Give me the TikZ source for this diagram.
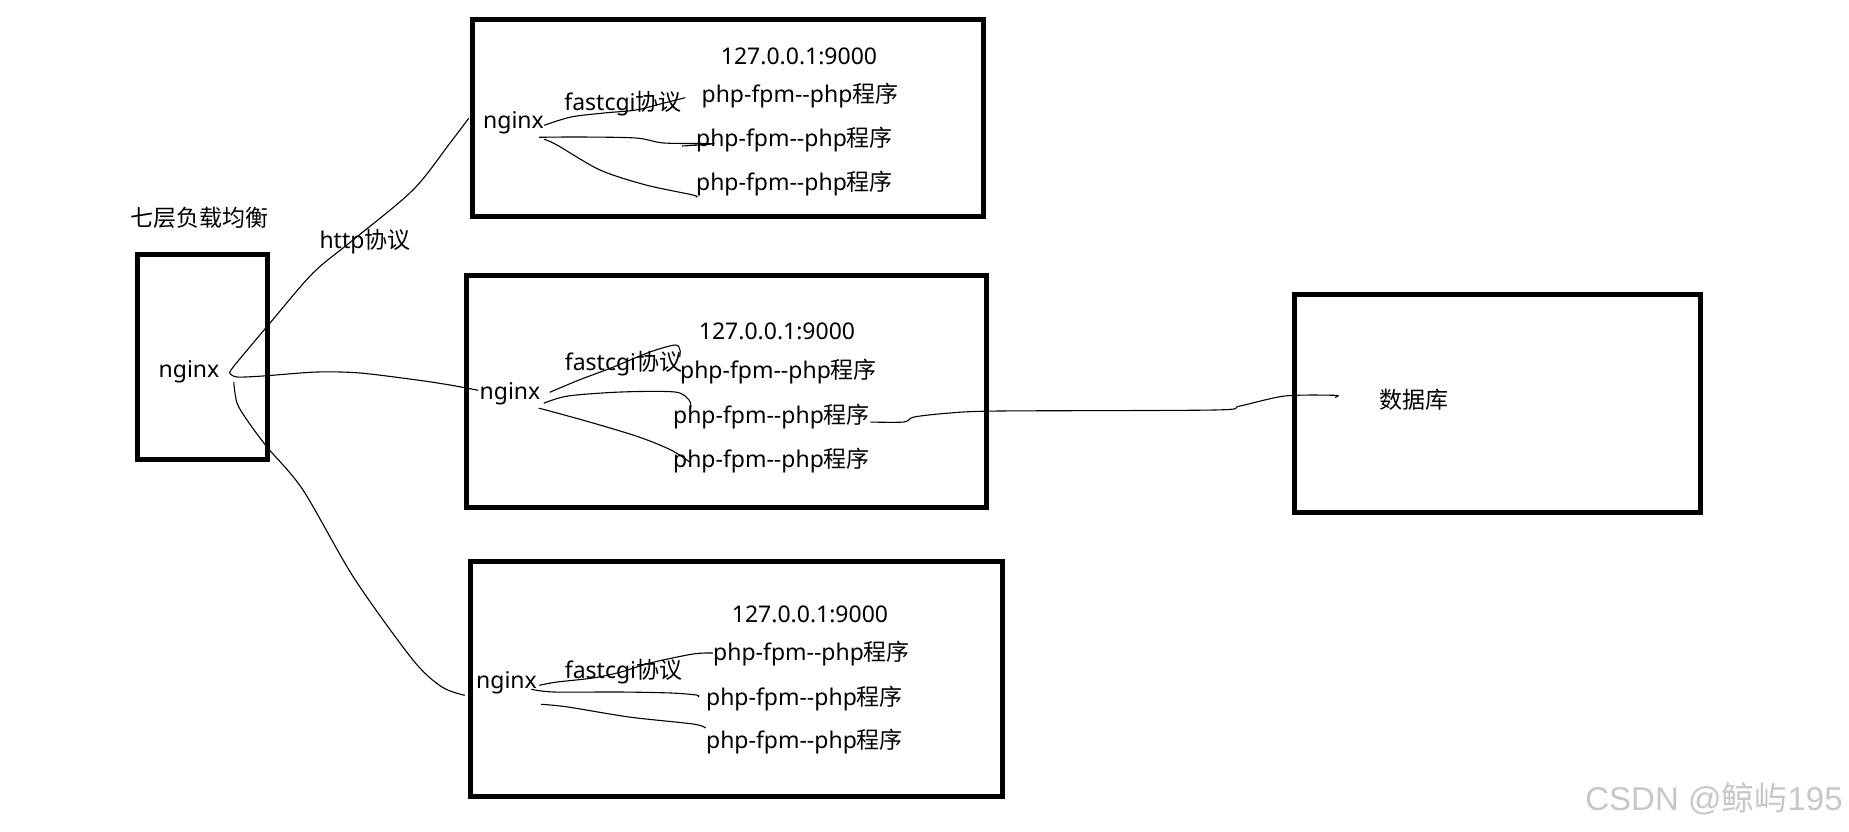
\documentclass[tikz,border=0pt]{standalone}
\usepackage{fontspec}
\setmainfont{Noto Sans}
\newfontfamily\cjk{Noto Sans CJK SC}
\newfontfamily\wmfont{Liberation Sans}
\usetikzlibrary{calc}
\newcommand\phpline{php-fpm-{}-php{\cjk 程序}}
\begin{document}
\begin{tikzpicture}[x=0.5pt,y=-0.5pt,
  boxline/.style={line width=2.4pt},
  wire/.style={line width=0.55pt},
  lbl/.style={inner sep=0pt, anchor=base, font=\fontsize{11.5}{14}\selectfont},
]
\useasboundingbox (0,0) rectangle (1849,831);
\fill[white] (0,0) rectangle (1849,831);

% boxes
\draw[boxline] (137.5,254.5) rectangle (267.5,459.5);
\draw[boxline] (472.5,19.5) rectangle (983.5,216.5);
\draw[boxline] (466.5,275.5) rectangle (986.5,507.5);
\draw[boxline] (470.5,561.5) rectangle (1002.5,796.5);
\draw[boxline] (1294.5,294.5) rectangle (1700.5,512.5);

% load balancer texts
\node[lbl] (title) at (199,226) {\cjk 七层负载均衡};
\node[lbl] (lbn) at (189,377) {nginx};
\node[lbl] (http) at (365,248) {http{\cjk 协议}};

% box 1
\node[lbl] (n1) at (513.5,128) {nginx};
\node[lbl] (f1) at (623,110) {fastcgi{\cjk 协议}};
\node[lbl] (ip1) at (799,64) {127.0.0.1:9000};
\node[lbl] (p11) at (800,102.7) {\phpline};
\node[lbl] (p12) at (794.5,146.7) {\phpline};
\node[lbl] (p13) at (794.5,190) {\phpline};

% box 2
\node[lbl] (n2) at (510,399) {nginx};
\node[lbl] (f2) at (623.5,370) {fastcgi{\cjk 协议}};
\node[lbl] (ip2) at (777,339) {127.0.0.1:9000};
\node[lbl] (p21) at (778.5,378) {\phpline};
\node[lbl] (p22) at (771.5,423) {\phpline};
\node[lbl] (p23) at (771.5,467) {\phpline};

% box 3
\node[lbl] (n3) at (506.5,688) {nginx};
\node[lbl] (f3) at (623.5,678) {fastcgi{\cjk 协议}};
\node[lbl] (ip3) at (810,622) {127.0.0.1:9000};
\node[lbl] (p31) at (811.6,660) {\phpline};
\node[lbl] (p32) at (804.5,705) {\phpline};
\node[lbl] (p33) at (804.5,748) {\phpline};

% database
\node[lbl] (db) at (1414,408) {\cjk 数据库};

% watermark
\node[inner sep=0pt, anchor=base east, font=\fontsize{16.5}{20}\selectfont, text=black!22] (wm) at (1843,810) {\wmfont CSDN @{\cjk 鲸屿}195};

% connector end points
\coordinate (c1s) at ($(lbn.east)+(10,2)$);
\coordinate (c1e) at ($(n1.west)+(-14,-4)$);
\coordinate (c2s) at ($(lbn.east)+(10,2)$);
\coordinate (c2e) at ($(n2.west)+(-1,-3)$);
\coordinate (c3s) at ($(lbn.east)+(14,11)$);
\coordinate (c3e) at ($(n3.west)+(-11,13)$);

\coordinate (a11) at ($(n1.east)+(0,3)$);
\coordinate (b11) at ($(p11.west)+(-16,2)$);
\coordinate (a12) at ($(n1.east)+(-5,15)$);
\coordinate (b12) at ($(p12.west)+(17,4)$);
\coordinate (a13) at ($(n1.east)+(0,17)$);
\coordinate (b13) at ($(p13.west)+(0,14)$);

\coordinate (a21) at ($(n2.east)+(9,-1)$);
\coordinate (b21) at ($(p21.west)+(0,-14)$);
\coordinate (a22) at ($(n2.east)+(3,10)$);
\coordinate (b22) at ($(p22.west)+(18,-9)$);
\coordinate (a23) at ($(n2.east)+(-2,15)$);
\coordinate (b23) at ($(p23.west)+(17,2)$);

\coordinate (a31) at ($(n3.east)+(2,3)$);
\coordinate (b31) at ($(p31.west)+(0,0)$);
\coordinate (a32) at ($(n3.east)+(-6,7)$);
\coordinate (b32) at ($(p32.west)+(-9,-3)$);
\coordinate (a33) at ($(n3.east)+(4,22)$);
\coordinate (b33) at ($(p33.west)+(0,-13)$);

\coordinate (ds) at ($(p22.east)+(0,6)$);
\coordinate (de) at ($(db.west)+(-44,-4)$);

% http connectors
\draw[wire] plot[smooth, tension=0.5] coordinates {(c1s) (234,366) (270,323) (313,273) (353,240) (413,190) (450,143) (c1e)};
\draw[wire] plot[smooth, tension=0.5] coordinates {(c2s) (237,377) (263,376) (317,372) (360,373) (417,380) (450,385) (c2e)};
\draw[wire] plot[smooth, tension=0.5] coordinates {(c3s) (237,403) (247,420) (267,447) (303,490) (354,578) (413,660) (442,687) (c3e)};

% fastcgi connectors box 1
\draw[wire] plot[smooth, tension=0.5] coordinates {(a11) (571,117) (604,113) (636,110) (664,103) (b11)};
\draw[wire] plot[smooth, tension=0.5] coordinates {(a12) (580,137) (636,138) (664,143) (b12) (682,146)};
\draw[wire] plot[smooth, tension=0.5] coordinates {(a13) (557,145) (600,170) (646,185) (693,195) (b13)};

% fastcgi connectors box 2
\draw[wire] plot[smooth, tension=0.5] coordinates {(a21) (579,380) (611,368) (650,352) (675,345) (680,350) (b21)};
\draw[wire] plot[smooth, tension=0.5] coordinates {(a22) (568,396) (621,392) (675,392) (689,400) (b22)};
\draw[wire] plot[smooth, tension=0.5] coordinates {(a23) (546,410) (593,423) (639,437) (671,450) (b23)};

% fastcgi connectors box 3
\draw[wire] plot[smooth, tension=0.5] coordinates {(a31) (557,682) (593,678) (621,672) (650,663) (693,654) (b31)};
\draw[wire] plot[smooth, tension=0.5] coordinates {(a32) (554,692) (620,692) (671,693) (b32) (698,697)};
\draw[wire] plot[smooth, tension=0.5] coordinates {(a33) (568,707) (629,717) (693,724) (b33)};

% database connector
\draw[wire] plot[smooth, tension=0.5] coordinates {(ds) (904,422) (914,417) (950,413) (1000,411) (1214,410) (1240,406) (1285,396) (de) ($(de)+(0,2)$)};
\end{tikzpicture}
\end{document}
